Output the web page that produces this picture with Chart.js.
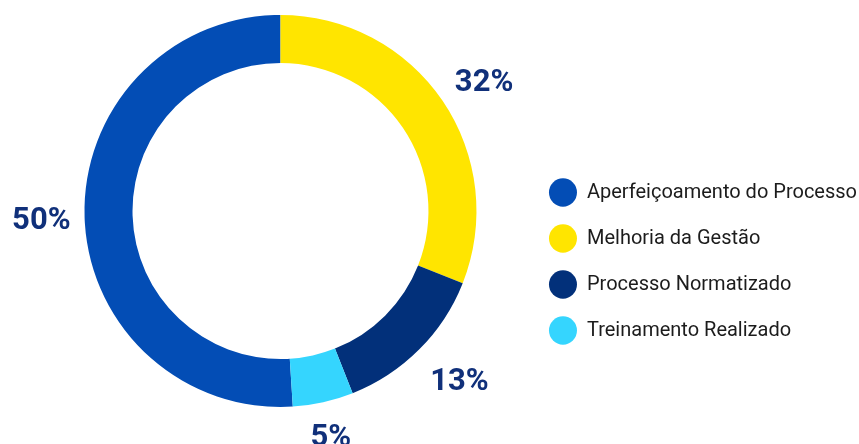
<!DOCTYPE html>
<html>
<head>
<meta charset="utf-8">
<script src="https://cdn.jsdelivr.net/npm/chart.js@4.4.1/dist/chart.umd.min.js"></script>
<style>
  html, body { margin: 0; padding: 0; background: #ffffff; }
  #wrap { width: 859px; height: 444px; position: relative; }
</style>
</head>
<body>
<div id="wrap"><canvas id="chart"></canvas></div>
<script>
// ---- data ----
const categories = ['Aperfeiçoamento do Processo', 'Melhoria da Gestão', 'Processo Normatizado', 'Treinamento Realizado'];
const shares = [51, 31, 13, 5];                    // arc sizes as drawn
const percentLabels = ['50%', '32%', '13%', '5%']; // printed labels
const colors = ['#034DB5', '#FFE500', '#02307A', '#35D5FE'];

const total = shares.reduce((a, b) => a + b, 0);
const startRotation = 360 - shares[0] / total * 360; // first slice ends at 12 o'clock

// Labels outside each arc, centred on the arc's middle angle
const outsideLabels = {
  id: 'outsideLabels',
  afterDatasetsDraw(chart) {
    const ctx = chart.ctx;
    const meta = chart.getDatasetMeta(0);
    const fontSize = 31, pad = 4, offset = 10, lh = fontSize * 1.2;
    ctx.save();
    ctx.font = 'bold ' + fontSize + 'px Roboto';
    ctx.fillStyle = '#10307A';
    ctx.textAlign = 'center';
    ctx.textBaseline = 'alphabetic';
    meta.data.forEach((arc, i) => {
      const p = arc.getProps(['x', 'y', 'startAngle', 'endAngle', 'outerRadius'], true);
      const mid = (p.startAngle + p.endAngle) / 2;
      const txt = percentLabels[i];
      const vx = Math.cos(mid), vy = Math.sin(mid);
      const ax = p.x + vx * p.outerRadius, ay = p.y + vy * p.outerRadius;
      const w = ctx.measureText(txt).width + 2 * pad;
      const h = lh + 2 * pad;
      const vs = 1 / Math.max(Math.abs(vx), Math.abs(vy));
      const cx = ax + (w / 2) * vx * vs + offset * vx;
      const cy = ay + (h / 2) * vy * vs + offset * vy;
      // centre the digits (cap height ~0.71em) on the computed point
      ctx.fillText(txt, cx, cy + fontSize * 0.355);
    });
    ctx.restore();
  }
};

new Chart(document.getElementById('chart'), {
  type: 'doughnut',
  data: {
    labels: categories,
    datasets: [{
      data: shares,
      backgroundColor: colors,
      borderWidth: 0,
      hoverOffset: 0
    }]
  },
  options: {
    responsive: true,
    maintainAspectRatio: false,
    animation: false,
    rotation: startRotation,
    cutout: '75.5%',
    layout: { padding: { left: 38, right: -8, top: 15, bottom: 37 } },
    plugins: {
      tooltip: { enabled: false },
      legend: {
        position: 'right',
        align: 'center',
        title: { display: true, text: '', padding: { top: 100, bottom: 0 }, font: { size: 1, lineHeight: 1 } },
        labels: {
          usePointStyle: true,
          pointStyle: 'circle',
          pointStyleWidth: 28,
          boxHeight: 20,
          padding: 26,
          color: '#1C1C1C',
          font: { family: 'Roboto', size: 20 }
        }
      }
    }
  },
  plugins: [outsideLabels]
});
</script>
</body>
</html>
